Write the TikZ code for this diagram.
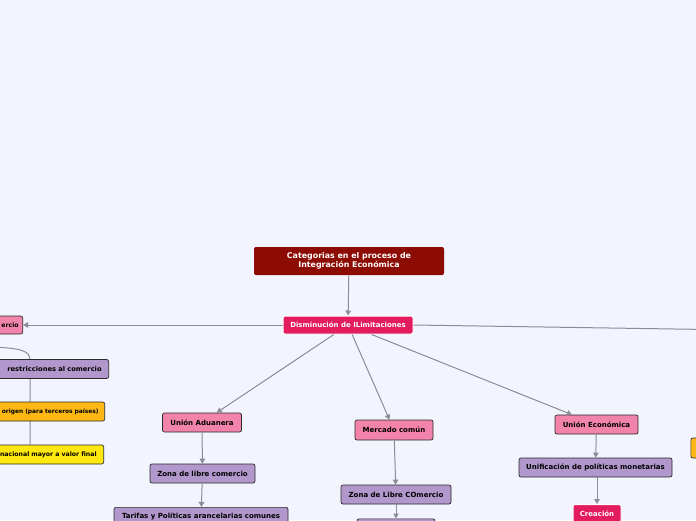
\documentclass[tikz,border=0pt]{standalone}
\usepackage{fontspec}
\setmainfont{DejaVu Sans}
\usetikzlibrary{arrows.meta}
\definecolor{bgc}{HTML}{F2F5FD}
\definecolor{titlec}{HTML}{8C0B02}
\definecolor{redc}{HTML}{E31B5F}
\definecolor{pinkc}{HTML}{F283AA}
\definecolor{purpc}{HTML}{B197CB}
\definecolor{orangec}{HTML}{FDB813}
\definecolor{yellowc}{HTML}{FFE80F}
\definecolor{linec}{HTML}{8A8D96}
\definecolor{edgec}{HTML}{2B2B2B}
\tikzset{
  box/.style={rectangle, rounded corners=2pt, draw=edgec, line width=0.7pt,
    font=\fontsize{7}{8}\selectfont\bfseries, text=black, inner sep=0pt,
    minimum height=19pt},
  pinkbox/.style={box, fill=pinkc},
  purpbox/.style={box, fill=purpc},
  orangebox/.style={box, fill=orangec},
  yellowbox/.style={box, fill=yellowc},
  redbox/.style={box, fill=redc, draw=white, line width=1pt, text=white},
  cutbox/.style={anchor=east, text width=200pt, align=right, inner xsep=#1,
    font=\fontsize{6.2}{8}\selectfont\bfseries},
  conn/.style={draw=linec, line width=1pt},
  arr/.style={conn, -{Triangle[length=5pt,width=5.5pt]}}
}
\begin{document}
\begin{tikzpicture}[x=1pt,y=-1pt]
\fill[bgc] (0,0) rectangle (696,520);
\clip (0,0) rectangle (696,520);
\useasboundingbox (0,0) rectangle (696,520);

% top
\node[box, fill=titlec, draw=none, text=white, align=center,
      minimum width=190pt, minimum height=28pt,
      font=\fontsize{7.9}{9.2}\selectfont\bfseries] (title) at (349,261)
  {Categorias en el proceso de\\Integración Económica};
\node[redbox, minimum width=130pt, minimum height=18pt] (dis) at (348,325)
  {Disminución de ILimitaciones};

% left (partly off the page)
\node[pinkbox, cutbox=4pt, minimum height=18pt] (lc) at (23,325) {ercio};
\coordinate (lp) at (-10,347);
\coordinate (lt) at (30,360);
\node[yellowbox, cutbox=7pt] (yl) at (104,454.5) {nacional mayor a valor final};
\draw[conn] (lp) .. controls (22,348) and (30,351) .. (lt) -- (lt |- yl.north);
\node[purpbox, cutbox=7pt, font=\fontsize{6.7}{8}\selectfont\bfseries] (pl) at (109,369) {restricciones al comercio};
\node[orangebox, cutbox=6pt, font=\fontsize{5.9}{8}\selectfont\bfseries] (ol) at (105,411.5) {origen (para terceros países)};

% right (off the page)
\coordinate (rc) at (740,330);
\node[orangebox, anchor=west, minimum width=60pt, minimum height=20pt] (orr) at (690.5,448) {};

% Unión Aduanera branch
\node[pinkbox, minimum width=79pt] (ua) at (202,422.5) {Unión Aduanera};
\node[purpbox, minimum width=105pt] (zl) at (202.5,473.5) {Zona de libre comercio};
\node[purpbox, minimum width=174pt, anchor=north] (tp) at (201,507) {Tarifas y Políticas arancelarias comunes};

% Mercado común branch
\node[pinkbox, minimum width=78pt, minimum height=20pt] (mc) at (394,430) {Mercado común};
\node[purpbox, minimum width=110pt] (zc) at (396,494.5) {Zona de Libre COmercio};
\node[purpbox, minimum width=78pt, anchor=north] (mb) at (396,518.5) {};

% Unión Económica branch
\node[pinkbox, minimum width=83pt] (ue) at (596.5,424.5) {Unión Económica};
\node[purpbox, minimum width=153pt] (up) at (595.5,467.5) {Unificación de políticas monetarias};
\node[redbox, minimum width=48pt, anchor=north, minimum height=18pt] (cr) at (597,504) {Creación};

% connectors
\draw[arr] (title) -- (dis);
\draw[arr] (dis.west) -- (lc.east);
\draw[conn] (dis.east) -- (rc);
\draw[arr] (dis) -- (ua);
\draw[arr] (dis) -- (mc);
\draw[arr] (dis) -- (ue);
\draw[arr] (ua) -- (zl);
\draw[arr] (zl) -- (tp);
\draw[arr] (mc) -- (zc);
\draw[arr] (zc) -- (mb);
\draw[arr] (ue) -- (up);
\draw[arr] (up.south -| cr.north) -- (cr);
\end{tikzpicture}
\end{document}
